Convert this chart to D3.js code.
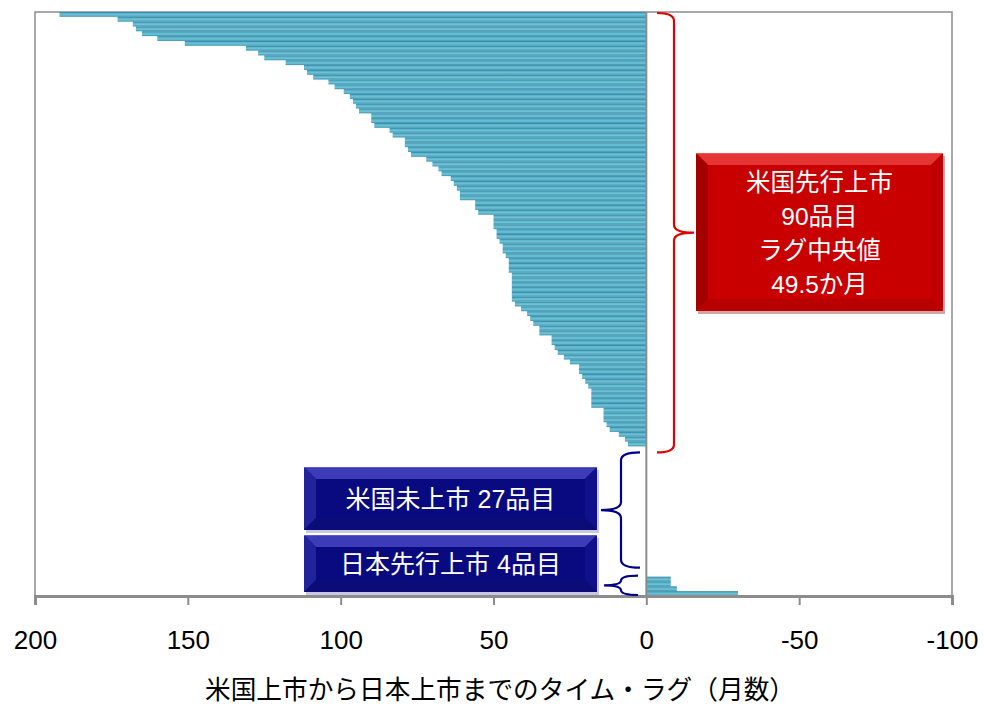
<!DOCTYPE html>
<html>
<head>
<meta charset="utf-8">
<script src="https://cdn.jsdelivr.net/npm/d3@7"></script>
<style>
  html, body { margin: 0; padding: 0; background: #fff; }
  svg { display: block; }
</style>
</head>
<body>
<svg id="chart" width="984" height="704"></svg>
<script>
// Months from US launch to Japan launch, products launched first in the US (sorted, longest first)
const usFirstLag = [
  192, 173, 168, 167, 165, 160, 151, 131, 127, 125,
  118, 112, 111, 109, 104, 102, 99, 97, 96, 95,
  94, 90, 90, 89, 84, 83, 79, 79, 78, 77,
  72, 70, 68, 67, 64, 63, 62, 61, 61, 56,
  56, 55, 50, 50, 50, 49, 49, 48, 47, 47,
  46, 45, 45, 45, 44, 44, 44, 44, 44, 44,
  43, 41, 39, 38, 37, 35, 35, 31, 31, 30,
  29, 27, 25, 22, 22, 21, 20, 19, 18, 18,
  18, 18, 14, 14, 14, 13, 12, 9, 7, 6
];
// Products not yet launched in the US (no lag value)
const usNotLaunchedCount = 27;
// Products launched first in Japan (negative lag)
const japanFirstLag = [-8, -8, -10, -30];

const xTicks = [200, 150, 100, 50, 0, -50, -100];
const xTitle = "米国上市から日本上市までのタイム・ラグ（月数）";

const latin = "'Liberation Sans', Arial, 'Noto Sans CJK JP', sans-serif";
const cjk = "'Liberation Sans', 'Noto Sans CJK JP', sans-serif";

// One row per product: US-first, then the empty US-unlaunched rows, then Japan-first
const rows = [
  ...usFirstLag.map(v => ({ v })),
  ...d3.range(usNotLaunchedCount).map(() => ({ v: null })),
  ...japanFirstLag.map(v => ({ v }))
];
rows.forEach((r, i) => r.i = i);

const svg = d3.select("#chart");
const plot = { left: 35, right: 952, top: 12, bottom: 596 };

const x = d3.scaleLinear().domain([200, -100]).range([plot.left, plot.right]);
const y = d3.scaleBand().domain(d3.range(rows.length)).range([plot.top, plot.bottom]).paddingInner(0);

// Bar shading
const defs = svg.append("defs");
const grad = defs.append("linearGradient").attr("id", "barFill")
  .attr("x1", 0).attr("y1", 0).attr("x2", 0).attr("y2", 1);
grad.append("stop").attr("offset", "0%").attr("stop-color", "#2a7e98");
grad.append("stop").attr("offset", "30%").attr("stop-color", "#5bb4cc");
grad.append("stop").attr("offset", "60%").attr("stop-color", "#6fc3d9");
grad.append("stop").attr("offset", "100%").attr("stop-color", "#3b92ac");

// Plot frame
svg.append("rect")
  .attr("x", plot.left).attr("y", plot.top)
  .attr("width", plot.right - plot.left).attr("height", plot.bottom - plot.top)
  .attr("fill", "none").attr("stroke", "#8c8c8c").attr("stroke-width", 1.5);

// Bars
svg.append("g").selectAll("rect")
  .data(rows.filter(r => r.v !== null))
  .join("rect")
  .attr("x", d => Math.min(x(d.v), x(0)))
  .attr("y", d => y(d.i))
  .attr("width", d => Math.abs(x(d.v) - x(0)))
  .attr("height", y.bandwidth())
  .attr("fill", "url(#barFill)");

// Zero line
svg.append("line")
  .attr("x1", x(0)).attr("x2", x(0))
  .attr("y1", plot.top).attr("y2", plot.bottom)
  .attr("stroke", "#8c8c8c").attr("stroke-width", 2);

// Bottom axis
const axis = svg.append("g")
  .attr("transform", `translate(0,${plot.bottom})`)
  .call(d3.axisBottom(x).tickValues(xTicks).tickSize(9).tickPadding(26).tickFormat(d3.format("d")));
axis.select(".domain").attr("stroke", "#8c8c8c").attr("stroke-width", 3);
axis.selectAll(".tick line").attr("stroke", "#8c8c8c").attr("stroke-width", 2);
axis.selectAll(".tick text")
  .attr("fill", "#000")
  .style("font-family", latin)
  .style("font-size", "26px")
  .text(d => d < 0 ? "-" + Math.abs(d) : d);

// Axis title
svg.append("text")
  .attr("x", 500).attr("y", 699)
  .attr("text-anchor", "middle")
  .attr("textLength", 590)
  .attr("lengthAdjust", "spacingAndGlyphs")
  .style("font-family", cjk)
  .style("font-size", "26px")
  .attr("fill", "#000")
  .text(xTitle);

// Curly brace along a vertical span, tips at tipX, spine at spineX, middle point at pointX
function brace(tipX, spineX, pointX, y0, y1, r, color) {
  const ym = (y0 + y1) / 2;
  const p = d3.path();
  p.moveTo(tipX, y0);
  p.quadraticCurveTo(spineX, y0, spineX, y0 + r);
  p.lineTo(spineX, ym - r);
  p.quadraticCurveTo(spineX, ym, pointX, ym);
  p.quadraticCurveTo(spineX, ym, spineX, ym + r);
  p.lineTo(spineX, y1 - r);
  p.quadraticCurveTo(spineX, y1, tipX, y1);
  svg.append("path").attr("d", p.toString())
    .attr("fill", "none").attr("stroke", color).attr("stroke-width", 2.2);
}

const nUS = usFirstLag.length;
const nNone = usNotLaunchedCount;
const nJP = japanFirstLag.length;
const rowTop = i => y(i);
const rowBot = i => y(i) + y.bandwidth();

brace(657, 674, 694, rowTop(0) + 1, rowBot(nUS - 1) + 6, 8, "#e00000");
brace(640, 621, 601, rowBot(nUS - 1) + 6, rowBot(nUS + nNone - 1) - 9, 8, "#00008b");
brace(638, 621, 604, rowTop(nUS + nNone) - 1, rowBot(nUS + nNone + nJP - 1) - 1, 5, "#00008b");

// Bevelled label box
function bevelBox(bx, by, w, h, b, c) {
  const g = svg.append("g");
  g.append("rect").attr("x", bx + 2).attr("y", by + 3).attr("width", w).attr("height", h)
    .attr("fill", c.shadow).attr("opacity", 0.35);
  g.append("rect").attr("x", bx).attr("y", by).attr("width", w).attr("height", h).attr("fill", c.face);
  const poly = (pts, fill) => g.append("polygon")
    .attr("points", pts.map(p => p.join(",")).join(" ")).attr("fill", fill);
  poly([[bx, by], [bx + w, by], [bx + w - b, by + b], [bx + b, by + b]], c.top);
  poly([[bx, by], [bx + b, by + b], [bx + b, by + h - b], [bx, by + h]], c.left);
  poly([[bx + w, by], [bx + w, by + h], [bx + w - b, by + h - b], [bx + w - b, by + b]], c.right);
  poly([[bx, by + h], [bx + b, by + h - b], [bx + w - b, by + h - b], [bx + w, by + h]], c.bottom);
  g.append("rect").attr("x", bx + b).attr("y", by + b).attr("width", w - 2 * b).attr("height", h - 2 * b).attr("fill", c.face);
  g.append("line").attr("x1", bx).attr("x2", bx + w).attr("y1", by + 0.5).attr("y2", by + 0.5)
    .attr("stroke", c.edge).attr("stroke-width", 1);
  return g;
}

const red = { face: "#c80000", top: "#e43434", left: "#a30000", right: "#c00000", bottom: "#b80000", edge: "#ff5050", shadow: "#800000" };
const blue = { face: "#0a0a80", top: "#3c3cb8", left: "#22229a", right: "#10108a", bottom: "#0c0c78", edge: "#5a5ad0", shadow: "#6060b0" };

const redText = ["米国先行上市", `${nUS}品目`, "ラグ中央値", `${d3.median(usFirstLag)}か月`];
const rb = bevelBox(696, 153, 247, 158, 12, red);
rb.selectAll("text").data(redText).join("text")
  .attr("x", 696 + 247 / 2)
  .attr("y", (d, i) => 191 + i * 34)
  .attr("text-anchor", "middle")
  .attr("fill", "#fff")
  .style("font-family", cjk)
  .style("font-size", "24.5px")
  .text(d => d);

const blueText = [`米国未上市 ${nNone}品目`, `日本先行上市 ${nJP}品目`];
const blueBoxes = [{ y: 467, h: 63 }, { y: 535, h: 57 }];
blueBoxes.forEach((bxd, i) => {
  const g = bevelBox(304, bxd.y, 293, bxd.h, 12, blue);
  g.append("text")
    .attr("x", 304 + 293 / 2)
    .attr("y", bxd.y + bxd.h / 2 + 9)
    .attr("text-anchor", "middle")
    .attr("fill", "#fff")
    .style("font-family", cjk)
    .style("font-size", "25px")
    .text(blueText[i]);
});
</script>
</body>
</html>
